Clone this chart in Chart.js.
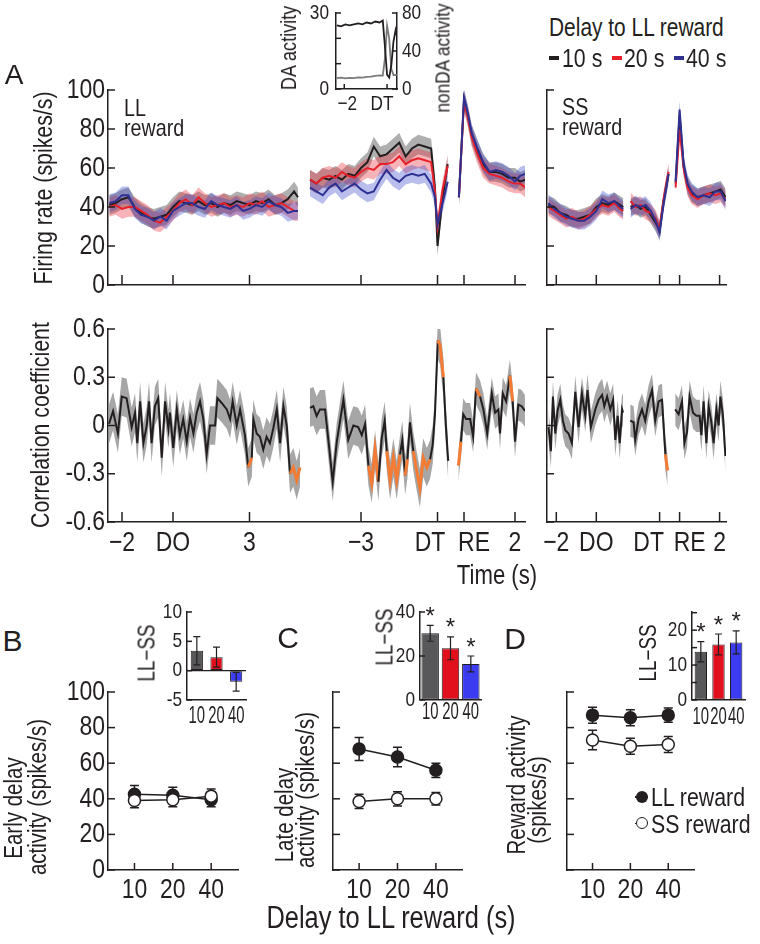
<!DOCTYPE html>
<html>
<head>
<meta charset="utf-8">
<title>Delay to LL reward</title>
<script src="https://cdn.jsdelivr.net/npm/chart.js@4.4.1/dist/chart.umd.min.js"></script>
<style>
  html, body { margin: 0; padding: 0; background: #fff; }
  body { position: relative; width: 760px; height: 944px; overflow: hidden;
         font-family: 'Liberation Sans', Arial, sans-serif; color: #231f20; }
  canvas { position: absolute; }
  .t { position: absolute; white-space: pre; line-height: 1; }
  .mk { position: absolute; box-sizing: border-box; }
</style>
</head>
<body>
<canvas id="llRate" width="540" height="240" style="left:0;top:60px"></canvas>
<canvas id="ssRate" width="200" height="240" style="left:540px;top:60px"></canvas>
<canvas id="llCorr" width="540" height="260" style="left:0;top:310px"></canvas>
<canvas id="ssCorr" width="200" height="260" style="left:540px;top:310px"></canvas>
<canvas id="daInset" width="180" height="115" style="left:270px;top:0"></canvas>
<canvas id="earlyMain" width="250" height="240" style="left:0;top:670px"></canvas>
<canvas id="lateMain" width="230" height="240" style="left:250px;top:670px"></canvas>
<canvas id="rewMain" width="230" height="240" style="left:490px;top:670px"></canvas>
<canvas id="earlyDiff" width="140" height="135" style="left:120px;top:595px"></canvas>
<canvas id="lateDiff" width="110" height="135" style="left:380px;top:595px"></canvas>
<canvas id="rewDiff" width="120" height="135" style="left:640px;top:595px"></canvas>
<script>
// --- colores y fuente ---
const INK = '#231f20', RED = '#e8202a', BLUE = '#2e3192', ORANGE = '#f47b34';
const SANS = "'Liberation Sans', Arial, sans-serif";
const SQ = 0.82; // texto estrecho (la figura usa una fuente condensada)

// --- A: firing rate (spikes/s), LL reward, aligned on delay onset ---
const llDoTime = [-2.5,-2.25,-2,-1.75,-1.5,-1.25,-1,-0.75,-0.5,-0.25,0,0.25,0.5,0.75,1,1.25,1.5,1.75,2,2.25,2.5,2.75,3,3.25,3.5,3.75,4,4.25,4.5,4.75,4.9];
const llDo10 = [41,42,44,45,40,37,35,34,35,36,40,43,42,41,43,41,42,40,42,41,43,42,41,43,42,44,41,42,44,48,45];
const llDo20 = [40,41,39,40,40,38,36,33,32,35,38,42,44,41,45,42,40,41,42,40,41,40,42,41,43,40,41,42,40,38,38];
const llDo40 = [42,43,46,46,39,36,35,33,35,33,38,40,42,42,40,39,43,41,40,39,41,38,39,41,40,43,41,40,37,38,38];
// aligned on delay termination
const llDtTime = [-5,-4.75,-4.5,-4.25,-4,-3.75,-3.5,-3.25,-3,-2.75,-2.5,-2.25,-2,-1.75,-1.5,-1.25,-1,-0.75,-0.5,-0.25,-0.1,0,0.2,0.4];
const llDt10 = [54,52,55,54,56,54,57,56,60,63,71,66,67,70,73,66,70,72,71,70,50,20,45,62];
const llDt20 = [54,52,55,56,55,58,56,55,58,60,59,62,62,63,66,62,64,65,64,63,48,30,49,61];
const llDt40 = [50,48,46,50,52,48,50,52,49,47,48,54,59,55,53,56,57,56,57,52,45,31,42,53];
// aligned on reward
const llReTime = [-0.2,0,0.15,0.3,0.5,0.75,1,1.25,1.5,1.75,2,2.2,2.4];
const llRe10 = [45,95,87,77,70,62,58,58,57,55,55,53,54];
const llRe20 = [45,94,86,76,68,60,57,56,55,53,52,52,50];
const llRe40 = [45,96,88,78,71,63,58,59,58,56,53,56,57];
const llSem = [5, 5, 4.5];

// SS reward
const ssDoTime = [-2.4,-2.1,-1.8,-1.5,-1.2,-0.9,-0.6,-0.3,0,0.3,0.6,0.9,1.2,1.35];
const ssDo10 = [41,40,37,36,34,34,35,36,40,42,41,43,41,40];
const ssDo20 = [40,38,36,34,35,33,34,36,39,41,40,42,39,38];
const ssDo40 = [42,39,37,35,34,33,33,35,38,44,42,43,40,39];
const ssDtTime = [-1.45,-1.2,-0.95,-0.7,-0.45,-0.2,0,0.2,0.45];
const ssDt10 = [40,41,39,40,36,32,28,43,57];
const ssDt20 = [43,40,41,38,37,34,29,44,58];
const ssDt40 = [39,41,40,41,38,33,27,42,57];
const ssReTime = [-0.2,0,0.2,0.4,0.6,0.9,1.2,1.5,1.8,2.05,2.3];
const ssRe10 = [52,87,61,51,47,45,46,47,48,49,45];
const ssRe20 = [50,80,60,50,46,44,46,47,46,47,44];
const ssRe40 = [53,90,62,52,48,45,46,45,48,48,43];
const ssSem = [4.5, 4.5, 4.5];

// --- A: correlation coefficient (sig = orange) ---
const llCorrDoTime = [-2.51,-2.35,-2.16,-2.01,-1.82,-1.62,-1.49,-1.4,-1.29,-1.16,-1.03,-0.94,-0.84,-0.71,-0.58,-0.44,-0.31,-0.18,-0.12,0.01,0.15,0.27,0.4,0.54,0.67,0.8,0.93,1.06,1.19,1.32,1.45,1.65,1.74,1.91,2.11,2.24,2.34,2.5,2.63,2.82,2.95,3.09,3.15,3.28,3.41,3.54,3.67,3.8,3.93,4.07,4.2,4.33,4.46,4.59,4.72,4.85,4.98];
const llCorrDo = [0.01,0.09,-0.05,0.18,0.17,-0.01,0.08,-0.11,0.15,-0.11,0,0.15,-0.11,0.12,0.17,-0.2,0.15,-0.02,0.08,-0.14,0.1,-0.06,0.04,-0.1,0.05,-0.05,0.08,0.15,0.04,-0.18,0,0,0.17,0.14,0.1,0.04,0.15,0,0.1,-0.06,-0.26,-0.2,0.04,-0.05,-0.07,-0.15,-0.07,-0.11,-0.02,0.1,-0.11,0.12,0,-0.3,-0.26,-0.34,-0.26];
const llCorrDoSig = [0,0,0,0,0,0,0,0,0,0,0,0,0,0,0,0,0,0,0,0,0,0,0,0,0,0,0,0,0,0,0,0,0,0,0,0,0,0,0,0,1,1,0,0,0,0,0,0,0,0,0,0,0,1,1,1,1];
const llCorrDtTime = [-5,-4.87,-4.74,-4.61,-4.41,-4.28,-4.11,-3.95,-3.69,-3.5,-3.3,-3.11,-2.97,-2.84,-2.71,-2.58,-2.45,-2.32,-2.19,-2.07,-1.99,-1.86,-1.73,-1.6,-1.47,-1.38,-1.27,-1.18,-1.08,-0.95,-0.82,-0.69,-0.56,-0.42,-0.29,-0.19,-0.1,0.01,0.1,0.23,0.33,0.42];
const llCorrDt = [0.11,0.12,0.06,0.1,0.1,-0.09,-0.35,-0.1,0.16,-0.09,0,-0.01,-0.06,0.01,-0.25,-0.36,-0.15,-0.35,-0.08,0.03,-0.16,-0.34,-0.2,-0.34,-0.18,-0.09,-0.31,-0.21,0.02,-0.16,-0.28,-0.39,-0.2,-0.26,-0.21,-0.12,0.07,0.53,0.5,0.3,-0.01,-0.22];
const llCorrDtSig = [0,0,0,0,0,0,0,0,0,0,0,0,0,0,1,1,1,1,0,0,1,1,1,1,1,0,1,1,0,1,1,1,1,1,1,0,0,1,1,1,0,0];
const llCorrReTime = [-0.22,-0.12,-0.03,0.08,0.24,0.36,0.47,0.63,0.76,0.91,1.09,1.22,1.35,1.41,1.52,1.65,1.8,1.91,2,2.13,2.26,2.39];
const llCorrRe = [-0.25,-0.1,0.07,0.04,0.04,-0.07,0.23,0.18,0.1,-0.05,0.2,0.08,0.1,-0.05,0.2,0.15,0.31,0.15,-0.1,0.13,0.12,0.09];
const llCorrReSig = [1,1,0,0,0,0,1,1,0,0,0,0,0,0,0,0,1,1,0,0,0,0];
const llCorrBand = [0.12, 0.12, 0.1];

const ssCorrDoTime = [-2.39,-2.27,-2.17,-2.05,-1.94,-1.8,-1.67,-1.55,-1.39,-1.22,-1.05,-0.89,-0.72,-0.55,-0.44,-0.27,-0.05,0.12,0.29,0.4,0.54,0.7,0.84,0.95,1.07,1.17,1.29,1.34];
const ssCorrDo = [-0.01,-0.16,0.18,-0.05,0.09,0.16,0.03,-0.03,-0.05,-0.11,0.21,-0.01,0.2,0.06,0.22,-0.01,0.1,0.16,0.19,0.12,0.18,0.1,0.16,-0.09,0.06,-0.11,0.1,0.08];
const ssCorrDoSig = ssCorrDo.map(() => 0);
const ssCorrDtTime = [-1.47,-1.3,-1.22,-1.05,-0.88,-0.72,-0.55,-0.38,-0.22,-0.05,0.12,0.29,0.4];
const ssCorrDt = [0.03,0.02,-0.09,0.04,0.1,0.03,0.15,0.22,0.03,0.15,0.16,-0.18,-0.28];
const ssCorrDtSig = [0,0,0,0,0,0,0,0,0,0,0,1,1];
const ssCorrReTime = [-0.22,-0.05,0.12,0.24,0.37,0.5,0.67,0.84,1,1.09,1.2,1.34,1.45,1.59,1.7,1.84,1.95,2.04,2.17,2.29];
const ssCorrRe = [0.1,0.07,0.15,-0.11,-0.04,0.18,0.08,0.06,0.06,-0.06,0.15,-0.11,0.12,0.02,-0.11,0.1,0,0.18,0.06,-0.19];
const ssCorrReSig = ssCorrRe.map(() => 0);
const ssCorrBand = [0.1, 0.1, 0.1];

// tick labels
const rateTickLabels = ['0', '20', '40', '60', '80', '100'];
const corrTicks = [-0.6, -0.3, 0, 0.3, 0.6];
const corrTickLabels = ['-0.6', '-0.3', '0', '0.3', '0.6'];
const llTickLabels = ['\u22122', 'DO', '3', '\u22123', 'DT', 'RE', '2'];
const ssTickLabels = ['\u22122', 'DO', 'DT', 'RE', '2'];

// --- A inset: DA vs nonDA around DT ---
const daTime = [-2.35,-2.15,-1.95,-1.75,-1.55,-1.35,-1.15,-0.95,-0.75,-0.55,-0.35,-0.2,-0.1,0,0.1,0.2,0.3,0.4,0.46];
const daRate = [4.3,4.5,4.2,4.4,4.3,4.6,4.5,4.8,4.9,5.2,5.4,5.3,12,25,20,8,5.5,5.6,5.5];
const nonDaRate = [67,66,68,67,68,69,68,70,69,71,70,72,45,15,12,25,50,62,56];
const daTickLabels = ['0', '', '', '30'];
const nonDaTickLabels = ['0', '40', '80'];
const insetTimeLabels = ['\u22122', 'DT'];

// --- B, C, D ---
const delays = ['10', '20', '40'];
const earlyLL = [42.5, 42, 39.5], earlyLLErr = [5, 4.5, 4];
const earlySS = [39, 39.5, 41.5], earlySSErr = [4, 4, 4];
const lateLL = [68, 63.5, 56], lateLLErr = [6.5, 5.5, 4];
const lateSS = [38.5, 40, 40], lateSSErr = [4, 4, 3.5];
const rewLL = [87, 85.5, 87], rewLLErr = [4.5, 4.5, 4];
const rewSS = [73, 69.5, 70.5], rewSSErr = [5.5, 4.5, 4.5];
const earlyDiff = [3.4, 2.3, -1.9], earlyDiffErr = [2.4, 1.7, 1.6], earlyStars = [0, 0, 0];
const lateDiff = [30.3, 23.5, 16.4], lateDiffErr = [3.6, 5.2, 3.6], lateStars = [1, 1, 1];
const rewDiff = [13.8, 15.9, 16.5], rewDiffErr = [2.9, 3.0, 3.3], rewStars = [1, 1, 1];
const earlyDiffTicks = [-5, 0, 5, 10], earlyDiffLabels = ['-5', '0', '5', '10'];
const lateDiffTicks = [0, 20, 40], lateDiffLabels = ['0', '20', '40'];
const rewDiffTicks = [0, 5, 10, 15, 20, 25], rewDiffLabels = ['0', '', '10', '', '20', ''];

// posiciones de los cortes del eje (s)
const LL_OFF = { DO: 0, DT: 10.373, RE: 11.412 };
const SS_OFF = { DO: 0, DT: 3.165, RE: 4.165 };

Chart.defaults.font.family = SANS;
Chart.defaults.font.size = 27;
Chart.defaults.color = INK;
Chart.defaults.animation = false;
Chart.defaults.responsive = false;
Chart.defaults.plugins.legend.display = false;
Chart.defaults.plugins.tooltip.enabled = false;

// etiquetas de ticks por canvas (se dibujan comprimidas)
const tickText = {
  llRate:   { y: { labels: rateTickLabels, size: 28, gap: 3 } },
  llCorr:   { x: { labels: llTickLabels, dx: [0, 0, 0, 0, -7.5, 10, 0], size: 28, gap: 21 },
              y: { labels: corrTickLabels, size: 28, gap: 3 } },
  ssCorr:   { x: { labels: ssTickLabels, dx: [0, 0, -11, 10, 0], size: 28, gap: 21 } },
  daInset:  { x: { labels: insetTimeLabels, dx: [3, -5], size: 21, gap: 15 },
              y: { labels: daTickLabels, size: 21, gap: 7 },
              y2: { labels: nonDaTickLabels, size: 21, gap: 5 } },
  earlyMain: { x: { labels: delays, size: 28, gap: 20 }, y: { labels: rateTickLabels, size: 28, gap: 3 } },
  lateMain:  { x: { labels: delays, size: 28, gap: 20 } },
  rewMain:   { x: { labels: delays, size: 28, gap: 20 } },
  earlyDiff: { x: { labels: delays, size: 24, gap: 16, sq: 0.62 }, y: { labels: earlyDiffLabels, size: 21, gap: 5 } },
  lateDiff:  { x: { labels: delays, size: 24, gap: 12, sq: 0.62 }, y: { labels: lateDiffLabels, size: 21, gap: 5 } },
  rewDiff:   { x: { labels: delays, size: 24, gap: 17, sq: 0.62 }, y: { labels: rewDiffLabels, size: 21, gap: 5 } }
};

const squeezedTicks = {
  id: 'squeezedTicks',
  afterDraw(chart) {
    const cfg = tickText[chart.canvas.id];
    if (!cfg) return;
    const ctx = chart.ctx, a = chart.chartArea;
    ctx.save();
    ctx.fillStyle = INK; ctx.textBaseline = 'middle';
    Object.keys(cfg).forEach(id => {
      const sc = chart.scales[id], c = cfg[id];
      ctx.font = c.size + 'px ' + SANS;
      sc.ticks.forEach((t, i) => {
        const txt = c.labels[i];
        if (!txt) return;
        const p = sc.getPixelForTick(i);
        let x, y;
        if (sc.isHorizontal()) { x = p + (c.dx ? c.dx[i] : 0); y = a.bottom + c.gap; ctx.textAlign = 'center'; }
        else if (sc.position === 'right') { x = a.right + c.gap; y = p; ctx.textAlign = 'left'; }
        else { x = a.left - c.gap; y = p; ctx.textAlign = 'right'; }
        ctx.save();
        ctx.translate(x, y); ctx.scale(c.sq || SQ, 1);
        ctx.fillText(txt, 0, 0);
        ctx.restore();
      });
    });
    ctx.restore();
  }
};

// ticks hacia adentro
const inTicks = {
  id: 'inTicks',
  afterDraw(chart, args, opts) {
    const ctx = chart.ctx, a = chart.chartArea;
    ctx.save();
    ctx.strokeStyle = INK; ctx.lineWidth = 1.5;
    Object.values(chart.scales).forEach(sc => {
      const len = opts[sc.id];
      if (!len) return;
      sc.ticks.forEach(t => {
        const p = sc.getPixelForValue(t.value);
        ctx.beginPath();
        if (sc.isHorizontal()) { ctx.moveTo(p, a.bottom); ctx.lineTo(p, a.bottom - len); }
        else if (sc.position === 'right') { ctx.moveTo(a.right, p); ctx.lineTo(a.right - len, p); }
        else { ctx.moveTo(a.left, p); ctx.lineTo(a.left + len, p); }
        ctx.stroke();
      });
    });
    ctx.restore();
  }
};

function drawErr(chart, opts) {
  const ctx = chart.ctx;
  ctx.save();
  ctx.strokeStyle = INK; ctx.lineWidth = opts.width || 1.5;
  chart.data.datasets.forEach((ds, i) => {
    if (!ds.err) return;
    const meta = chart.getDatasetMeta(i), ys = chart.scales[meta.yAxisID];
    meta.data.forEach((el, j) => {
      const raw = ds.data[j], v = typeof raw === 'object' ? raw.y : raw, e = ds.err[j];
      const top = ys.getPixelForValue(v + e), bot = ys.getPixelForValue(v - e), x = el.x, c = opts.cap || 4;
      ctx.beginPath();
      ctx.moveTo(x, top); ctx.lineTo(x, bot);
      ctx.moveTo(x - c, top); ctx.lineTo(x + c, top);
      ctx.moveTo(x - c, bot); ctx.lineTo(x + c, bot);
      ctx.stroke();
      if (ds.stars && ds.stars[j]) {
        ctx.fillStyle = INK;
        ctx.font = '24px ' + SANS;
        ctx.textAlign = 'center'; ctx.textBaseline = 'middle';
        ctx.fillText('*', x, top - 8);
      }
    });
  });
  ctx.restore();
}
const errBars = {
  id: 'errBars',
  beforeDatasetsDraw(chart, args, opts) { if (opts.under) drawErr(chart, opts); },
  afterDatasetsDraw(chart, args, opts) { if (opts.over) drawErr(chart, opts); }
};
Chart.register(inTicks, errBars, squeezedTicks);

const axisBorder = { display: true, color: INK, width: 1.5 };
const noGrid = { display: false, drawTicks: false };
const noTicks = { display: false, autoSkip: false };

function xTime(min, max, vals, h) {
  return {
    type: 'linear', min, max,
    afterBuildTicks: s => { s.ticks = vals.map(v => ({ value: v })); },
    afterFit: s => { s.height = h; },
    grid: noGrid, border: axisBorder, ticks: noTicks
  };
}
function yFixed(min, max, w, vals, extra = {}) {
  return Object.assign({
    min, max, grid: noGrid, border: axisBorder, ticks: noTicks,
    afterBuildTicks: s => { s.ticks = vals.map(v => ({ value: v })); },
    afterFit: s => { s.width = w; }
  }, extra);
}
const rateTicks = [0, 20, 40, 60, 80, 100];

// --- A arriba: tasas ---
function rateChart(id, segs, sem, xMin, xMax, tickVals, yW, padR) {
  const cols = [INK, RED, BLUE];
  const fills = ['rgba(95,95,95,0.5)', 'rgba(235,55,65,0.38)', 'rgba(55,70,200,0.35)'];
  const ds = [];
  segs.forEach(sg => {
    [0, 1, 2].forEach(k => {
      const m = sg.rates[k];
      ds.push({ data: sg.time.map((t, i) => ({ x: t + sg.off, y: m[i] + sem[k] })), borderColor: 'rgba(0,0,0,0)', borderWidth: 0, pointRadius: 0, fill: false, order: 30 - 10 * k });
      ds.push({ data: sg.time.map((t, i) => ({ x: t + sg.off, y: m[i] - sem[k] })), borderColor: 'rgba(0,0,0,0)', borderWidth: 0, pointRadius: 0, fill: '-1', backgroundColor: fills[k], order: 30 - 10 * k });
      ds.push({ data: sg.time.map((t, i) => ({ x: t + sg.off, y: m[i] })), borderColor: cols[k], borderWidth: 2, pointRadius: 0, fill: false, order: 3 - k });
    });
  });
  new Chart(document.getElementById(id), {
    type: 'line',
    data: { datasets: ds },
    options: {
      layout: { padding: { top: 30, right: padR, left: 0, bottom: 0 } },
      plugins: { inTicks: { x: 10, y: 7 } },
      scales: { x: xTime(xMin, xMax, tickVals, 15), y: yFixed(0, 100, yW, rateTicks) }
    }
  });
}

const llTickVals = [-2, 0, 3, LL_OFF.DT - 3, LL_OFF.DT, LL_OFF.RE, LL_OFF.RE + 2];
const ssTickVals = [-2, 0, SS_OFF.DT, SS_OFF.RE, SS_OFF.RE + 2];

rateChart('llRate', [
  { time: llDoTime, off: LL_OFF.DO, rates: [llDo10, llDo20, llDo40] },
  { time: llDtTime, off: LL_OFF.DT, rates: [llDt10, llDt20, llDt40] },
  { time: llReTime, off: LL_OFF.RE, rates: [llRe10, llRe20, llRe40] }
], llSem, -2.549, 13.804, llTickVals, 108, 15);

rateChart('ssRate', [
  { time: ssDoTime, off: SS_OFF.DO, rates: [ssDo10, ssDo20, ssDo40] },
  { time: ssDtTime, off: SS_OFF.DT, rates: [ssDt10, ssDt20, ssDt40] },
  { time: ssReTime, off: SS_OFF.RE, rates: [ssRe10, ssRe20, ssRe40] }
], ssSem, -2.465, 6.485, ssTickVals, 7, 14);

// --- A abajo: correlación ---
function corrChart(id, segs, band, xMin, xMax, tickVals, yW, padR) {
  const ds = [];
  segs.forEach((sg, n) => {
    const on = c => sg.sig[c.p0DataIndex] && sg.sig[c.p1DataIndex];
    ds.push({ data: sg.time.map((t, i) => ({ x: t + sg.off, y: sg.r[i] + band[n] })), borderColor: 'rgba(0,0,0,0)', borderWidth: 0, pointRadius: 0, fill: false, order: 10 });
    ds.push({ data: sg.time.map((t, i) => ({ x: t + sg.off, y: sg.r[i] - band[n] })), borderColor: 'rgba(0,0,0,0)', borderWidth: 0, pointRadius: 0, fill: '-1', backgroundColor: '#a6a6a6', order: 10 });
    ds.push({
      data: sg.time.map((t, i) => ({ x: t + sg.off, y: sg.r[i] })), borderColor: INK, borderWidth: 2, pointRadius: 0, fill: false, order: 1,
      segment: { borderColor: c => on(c) ? ORANGE : INK, borderWidth: c => on(c) ? 3 : 2 }
    });
  });
  new Chart(document.getElementById(id), {
    type: 'line',
    data: { datasets: ds },
    options: {
      layout: { padding: { top: 19, right: padR, left: 0, bottom: 0 } },
      plugins: { inTicks: { x: 10, y: 7 } },
      scales: { x: xTime(xMin, xMax, tickVals, 48), y: yFixed(-0.6, 0.6, yW, corrTicks) }
    }
  });
}

corrChart('llCorr', [
  { time: llCorrDoTime, off: LL_OFF.DO, r: llCorrDo, sig: llCorrDoSig },
  { time: llCorrDtTime, off: LL_OFF.DT, r: llCorrDt, sig: llCorrDtSig },
  { time: llCorrReTime, off: LL_OFF.RE, r: llCorrRe, sig: llCorrReSig }
], llCorrBand, -2.549, 13.804, llTickVals, 108, 15);

corrChart('ssCorr', [
  { time: ssCorrDoTime, off: SS_OFF.DO, r: ssCorrDo, sig: ssCorrDoSig },
  { time: ssCorrDtTime, off: SS_OFF.DT, r: ssCorrDt, sig: ssCorrDtSig },
  { time: ssCorrReTime, off: SS_OFF.RE, r: ssCorrRe, sig: ssCorrReSig }
], ssCorrBand, -2.465, 6.485, ssTickVals, 7, 14);

// --- A inset ---
new Chart(document.getElementById('daInset'), {
  type: 'line',
  data: { datasets: [
    { data: daTime.map((t, i) => ({ x: t, y: nonDaRate[i] })), yAxisID: 'y2', borderColor: INK, borderWidth: 1.8, pointRadius: 0 },
    { data: daTime.map((t, i) => ({ x: t, y: daRate[i] })), yAxisID: 'y', borderColor: '#7b7b7b', borderWidth: 1.8, pointRadius: 0 }
  ] },
  options: {
    layout: { padding: { top: 13, right: 0, left: 0, bottom: 0 } },
    plugins: { inTicks: { x: 5, y: 5, y2: 5 } },
    scales: {
      x: xTime(-2.386, 0.465, [-2, 0], 26),
      y: yFixed(0, 30, 66, [0, 10, 20, 30], { position: 'left' }),
      y2: yFixed(0, 80, 53, [0, 40, 80], { position: 'right' })
    }
  }
});

// --- B, C, D principales ---
function dotChart(id, ll, llErr, ss, ssErr, xMin, xMax, yW, padR) {
  new Chart(document.getElementById(id), {
    type: 'line',
    data: { datasets: [
      { data: ss.map((v, i) => ({ x: i, y: v })), err: ssErr, borderColor: INK, borderWidth: 1.5, pointRadius: 6, pointBackgroundColor: '#fff', pointBorderColor: INK, pointBorderWidth: 1.5 },
      { data: ll.map((v, i) => ({ x: i, y: v })), err: llErr, borderColor: INK, borderWidth: 1.5, pointRadius: 6, pointBackgroundColor: INK, pointBorderColor: INK, pointBorderWidth: 1.5 }
    ] },
    options: {
      layout: { padding: { top: 22, right: padR, left: 0, bottom: 0 } },
      plugins: { inTicks: { x: 7, y: 7 }, errBars: { under: true, width: 1.5, cap: 4.5 } },
      scales: { x: xTime(xMin, xMax, [0, 1, 2], 40), y: yFixed(0, 100, yW, rateTicks) }
    }
  });
}
dotChart('earlyMain', earlyLL, earlyLLErr, earlySS, earlySSErr, -0.69, 2.7, 108, 12);
dotChart('lateMain', lateLL, lateLLErr, lateSS, lateSSErr, -0.68, 2.68, 83, 18);
dotChart('rewMain', rewLL, rewLLErr, rewSS, rewSSErr, -0.674, 2.68, 77, 26);

// --- insets LL-SS ---
function diffChart(id, vals, errs, stars, yMin, yMax, tickVals, yW, padR, barPct) {
  new Chart(document.getElementById(id), {
    type: 'bar',
    data: { labels: delays, datasets: [{
      data: vals, err: errs, stars,
      backgroundColor: ['#58585a', '#e2101c', '#3b3bef'], borderColor: INK, borderWidth: 1, borderSkipped: false,
      barPercentage: barPct, categoryPercentage: 1
    }] },
    options: {
      layout: { padding: { top: 17, right: padR, left: 0, bottom: 0 } },
      plugins: { inTicks: { y: 5 }, errBars: { over: true, width: 1.2, cap: 3.5 } },
      scales: {
        x: { grid: noGrid, border: axisBorder, ticks: noTicks, afterFit: s => { s.height = 30; } },
        y: yFixed(yMin, yMax, yW, tickVals, {
          grid: { drawTicks: false, lineWidth: 1.2, color: c => (c.tick && c.tick.value === 0 && yMin < 0) ? INK : 'rgba(0,0,0,0)' }
        })
      }
    }
  });
}
diffChart('earlyDiff', earlyDiff, earlyDiffErr, earlyStars, -5, 10, earlyDiffTicks, 67, 14, 0.62);
diffChart('lateDiff', lateDiff, lateDiffErr, lateStars, 0, 40, lateDiffTicks, 40, 9, 0.86);
diffChart('rewDiff', rewDiff, rewDiffErr, rewStars, 0, 25.2, rewDiffTicks, 52, 15, 0.7);

// --- textos ---
function label(text, x, y, size, o = {}) {
  const d = document.createElement('div');
  const sq = o.sq === undefined ? SQ : o.sq;
  d.className = 't';
  d.textContent = text;
  d.style.left = x + 'px'; d.style.top = y + 'px';
  d.style.fontSize = size + 'px';
  if (o.left) {
    d.style.transformOrigin = '0 50%';
    d.style.transform = `translate(0,-50%) scaleX(${sq})`;
  } else {
    d.style.transform = 'translate(-50%,-50%)' + (o.rot ? ' rotate(-90deg)' : '') + ` scaleX(${sq})`;
  }
  document.body.appendChild(d);
}
function mark(x, y, w, h, css) {
  const d = document.createElement('div');
  d.className = 'mk';
  d.style.cssText += `left:${x}px;top:${y}px;width:${w}px;height:${h}px;` + css;
  document.body.appendChild(d);
}
label('A', 14, 75, 28, { sq: 1 });
label('B', 12.5, 641, 30, { sq: 1 });
label('C', 288, 637.5, 30, { sq: 1 });
label('D', 515, 638.5, 30, { sq: 1 });

label('Firing rate (spikes/s)', 43, 188, 26, { rot: true });
label('Correlation coefficient', 40, 425, 26, { rot: true });
label('Time (s)', 496.5, 575, 27);
label('LL', 124, 107.5, 24, { left: true });
label('reward', 124, 127.5, 24, { left: true });
label('SS', 562, 106.5, 24, { left: true });
label('reward', 562, 126.5, 24, { left: true });

label('DA activity', 289, 48, 22, { rot: true });
label('nonDA activity', 441.5, 58, 21, { rot: true });

label('Delay to LL reward', 549, 28, 25.5, { left: true });
mark(549, 56, 10, 4, 'background:' + INK);
label('10 s', 562, 58, 26, { left: true });
mark(612, 56, 10, 4, 'background:' + RED);
label('20 s', 624, 58, 26, { left: true });
mark(674, 56, 10, 4, 'background:' + BLUE);
label('40 s', 686, 58, 26, { left: true });

label('Early delay', 12.5, 808, 25, { rot: true });
label('activity (spikes/s)', 37, 797, 25, { rot: true });
label('Late delay', 284, 815, 25, { rot: true });
label('activity (spikes/s)', 305, 790, 25, { rot: true });
label('Reward activity', 516, 785, 25, { rot: true });
label('(spikes/s)', 537, 800, 25, { rot: true });
label('LL\u2212SS', 146.7, 653, 23, { rot: true });
label('LL\u2212SS', 385, 637, 23, { rot: true });
label('LL\u2212SS', 648, 653, 23, { rot: true });
label('Delay to LL reward (s)', 391, 917, 31);

mark(635, 796, 13, 1.6, 'background:' + INK);
mark(635.7, 790.7, 12, 12, 'border-radius:50%;background:' + INK);
label('LL reward', 651, 797, 26, { left: true });
mark(635, 822.6, 13, 1.6, 'background:' + INK);
mark(635.7, 817.3, 12, 12, 'border-radius:50%;background:#fff;border:1.5px solid ' + INK);
label('SS reward', 651, 823.5, 26, { left: true });
</script>
</body>
</html>
